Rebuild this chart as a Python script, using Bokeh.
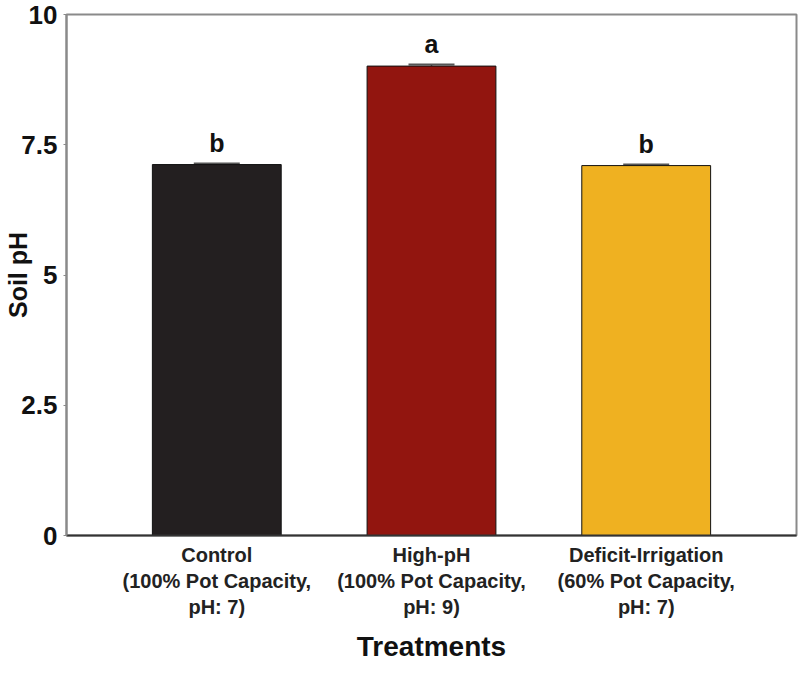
from bokeh.plotting import figure
from bokeh.models import ColumnDataSource, Range1d, FactorRange, Whisker, FixedTicker
from bokeh.embed import file_html
from bokeh.resources import INLINE
from bokeh.core.properties import value

treatments = ["Control\n(100% Pot Capacity,\npH: 7)",
              "High-pH\n(100% Pot Capacity,\npH: 9)",
              "Deficit-Irrigation\n(60% Pot Capacity,\npH: 7)"]
soil_ph = [7.12, 9.01, 7.10]
se = [0.02, 0.03, 0.02]
letters = ["b", "a", "b"]
colors = ["#231f20", "#92150f", "#efb121"]
y_ticks = [0, 2.5, 5, 7.5, 10]
y_tick_labels = {0: "0", 2.5: "2.5", 5: "5", 7.5: "7.5", 10: "10"}
y_title = "Soil pH"
x_title = "Treatments"

src = ColumnDataSource(dict(
    x=treatments, y=soil_ph, lower=[v - s for v, s in zip(soil_ph, se)],
    upper=[v + s for v, s in zip(soil_ph, se)], letters=letters, color=colors))

p = figure(x_range=FactorRange(*treatments, range_padding=0.2, range_padding_units="absolute"),
           y_range=Range1d(0, 10), width=799, height=665,
           output_backend="svg", toolbar_location=None,
           min_border_top=14, min_border_right=3, min_border_left=66, min_border_bottom=4)

p.vbar(x="x", top="y", width=0.6, bottom=0, fill_color="color", line_color="#111111",
       line_width=1, source=src)

w = Whisker(base="x", upper="upper", lower="lower", source=src, line_color="#555555",
            line_width=1.5)
for h in (w.upper_head, w.lower_head):
    h.size = 46
    h.line_color = "#555555"
    h.line_width = 2
p.add_layout(w)

p.text(x="x", y="upper", text="letters", source=src, text_align="center",
       text_baseline="bottom", y_offset=-7, text_font_size="25px",
       text_font_style="bold", text_color="#111111", text_font=value("Liberation Sans"))

p.xgrid.visible = False
p.ygrid.visible = False
p.outline_line_color = "#8a8a8a"
p.outline_line_width = 2

p.yaxis.ticker = FixedTicker(ticks=y_ticks)
p.yaxis.major_label_overrides = y_tick_labels
p.yaxis.minor_tick_line_color = None
p.yaxis.major_tick_in = 0
p.yaxis.major_tick_out = 3
p.yaxis.major_tick_line_color = "#8a8a8a"
p.yaxis.axis_line_color = "#8a8a8a"
p.yaxis.axis_line_width = 2
p.yaxis.major_label_text_font = "Liberation Sans"
p.yaxis.major_label_text_font_style = "bold"
p.yaxis.major_label_text_font_size = "26px"
p.yaxis.major_label_text_color = "#111111"
p.yaxis.major_label_standoff = 6
p.yaxis.axis_label = y_title
p.yaxis.axis_label_text_font = "Liberation Sans"
p.yaxis.axis_label_text_font_style = "bold"
p.yaxis.axis_label_text_font_size = "25px"
p.yaxis.axis_label_text_color = "#111111"
p.yaxis.axis_label_standoff = -14

p.xaxis.major_tick_line_color = None
p.xaxis.axis_line_color = "#333333"
p.xaxis.axis_line_width = 2
p.xaxis.major_label_text_font = "Liberation Sans"
p.xaxis.major_label_text_font_style = "bold"
p.xaxis.major_label_text_font_size = "20px"
p.xaxis.major_label_text_color = "#222222"
p.xaxis.major_label_standoff = 2
p.xaxis.axis_label = x_title
p.xaxis.axis_label_text_font = "Liberation Sans"
p.xaxis.axis_label_text_font_style = "bold"
p.xaxis.axis_label_text_font_size = "28px"
p.xaxis.axis_label_text_color = "#111111"
p.xaxis.axis_label_standoff = 10

open("out.html", "w").write(file_html(p, INLINE))
